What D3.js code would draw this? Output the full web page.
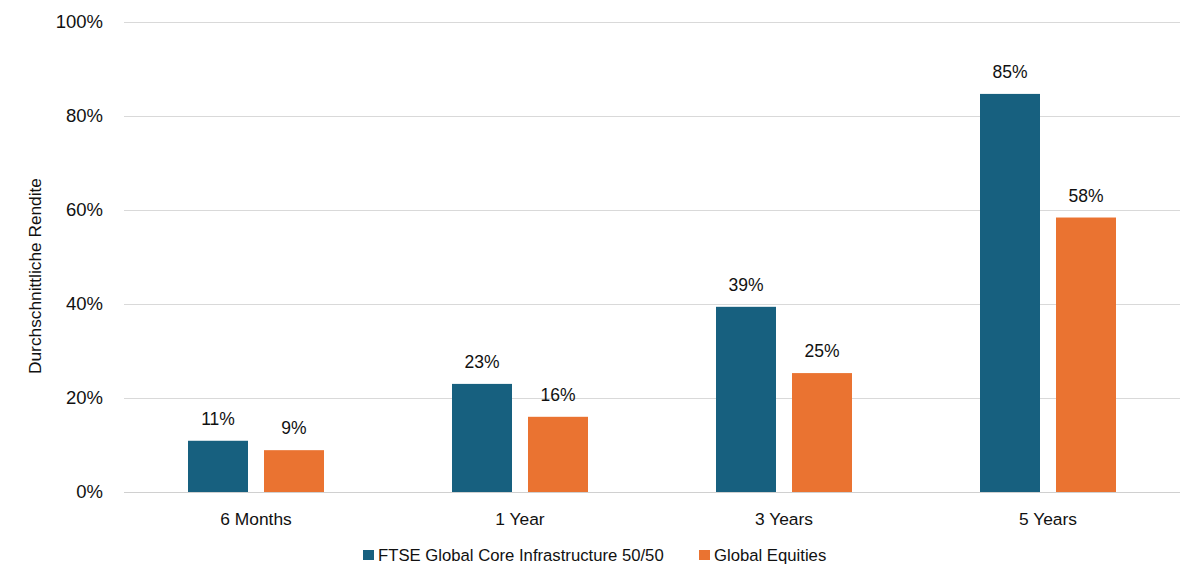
<!DOCTYPE html>
<html><head><meta charset="utf-8">
<script src="https://cdn.jsdelivr.net/npm/d3@7/dist/d3.min.js"></script>
<style>body{margin:0;background:#fff;font-family:"Liberation Sans",Arial,sans-serif;}</style>
</head><body><svg id="c" width="1195" height="571"></svg>
<script>
const categories = ["6 Months","1 Year","3 Years","5 Years"];
const seriesNames = ["FTSE Global Core Infrastructure 50/50","Global Equities"];
const infra = [10.9, 23.0, 39.4, 84.7];
const equities = [8.9, 16.0, 25.3, 58.4];
const infraLabels = ["11%","23%","39%","85%"];
const equityLabels = ["9%","16%","25%","58%"];
const yTicks = [0,20,40,60,80,100];
const colors = ["#17607f","#ea7331"];

const svg = d3.select("#c");
const x0 = d3.scaleBand().domain(categories).range([124,1180]);
const x1 = d3.scaleBand().domain([0,1]).range([64, 64+136]).paddingInner(16/76).paddingOuter(0);
const y = d3.scaleLinear().domain([0,100]).range([492,22]);

// gridlines
svg.append("g").selectAll("line").data(yTicks).join("line")
  .attr("x1",124).attr("x2",1180)
  .attr("y1",d=>y(d)+0.5).attr("y2",d=>y(d)+0.5)
  .attr("stroke",d=>d===0?"#d0d0d0":"#d9d9d9").attr("stroke-width",1);

// y tick labels
svg.append("g").selectAll("text").data(yTicks).join("text")
  .attr("x",103).attr("y",d=>y(d)).attr("dy","0.35em")
  .attr("text-anchor","end").attr("font-size",18.5).attr("fill","#111")
  .text(d=>d+"%");

// y axis title
svg.append("text").attr("transform","translate(41,276) rotate(-90)")
  .attr("text-anchor","middle").attr("font-size",17.3).attr("fill","#111")
  .text("Durchschnittliche Rendite");

const data = categories.map((c,i)=>({c, vals:[infra[i],equities[i]], labs:[infraLabels[i],equityLabels[i]]}));
const groups = svg.append("g").selectAll("g").data(data).join("g")
  .attr("transform",d=>`translate(${x0(d.c)},0)`);
groups.selectAll("rect").data(d=>d.vals.map((v,k)=>({v,k}))).join("rect")
  .attr("x",d=>x1(d.k)).attr("width",x1.bandwidth())
  .attr("y",d=>y(d.v)).attr("height",d=>y(0)-y(d.v))
  .attr("fill",d=>colors[d.k]);
groups.selectAll("text").data(d=>d.vals.map((v,k)=>({v,k,l:d.labs[k]}))).join("text")
  .attr("x",d=>x1(d.k)+x1.bandwidth()/2).attr("y",d=>y(d.v)-16)
  .attr("text-anchor","middle").attr("font-size",17.5).attr("fill","#111")
  .text(d=>d.l);

// x labels
svg.append("g").selectAll("text").data(categories).join("text")
  .attr("x",d=>x0(d)+x0.bandwidth()/2).attr("y",519).attr("dy","0.35em")
  .attr("text-anchor","middle").attr("font-size",17.4).attr("fill","#111")
  .text(d=>d);

// legend
const legX = [363, 699];
const leg = svg.append("g").selectAll("g").data(seriesNames).join("g")
  .attr("transform",(d,i)=>`translate(${legX[i]},555)`);
leg.append("rect").attr("x",0).attr("y",-5).attr("width",11).attr("height",10).attr("fill",(d,i)=>colors[i]);
leg.append("text").attr("x",15).attr("y",0).attr("dy","0.35em").attr("font-size",16.7).attr("fill","#111").text(d=>d);
</script></body></html>
